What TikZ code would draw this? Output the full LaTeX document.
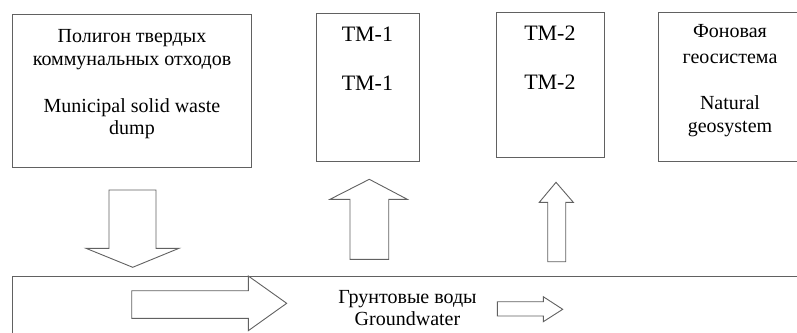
\documentclass[tikz,border=0pt]{standalone}
\usepackage{fontspec}
\setmainfont{Liberation Serif}
\begin{document}
\begin{tikzpicture}[x=1pt,y=-1pt,
  box/.style={draw=black!62,line width=0.9pt,rectangle,inner sep=0pt},
  blockarrow/.style={draw=black!62,line width=0.9pt,line join=miter,fill=white},
  txt/.style={anchor=base,inner sep=0pt,font=\fontsize{20}{24}\selectfont},
  tmtxt/.style={anchor=base,inner sep=0pt,font=\fontsize{22}{26}\selectfont}]
\useasboundingbox (0,0) rectangle (797,332);
\clip (0,0) rectangle (797,332);

% upper boxes
\node[box,minimum width=239.5pt,minimum height=152.5pt] (dump) at (132,90.8) {};
\node[box,minimum width=103pt,minimum height=148.5pt] (tm1) at (367.5,87.5) {};
\node[box,minimum width=108pt,minimum height=145pt] (tm2) at (550,84.8) {};
\node[box,minimum width=144pt,minimum height=149.5pt] (nat) at (730.3,87) {};

% groundwater layer, running off the right and bottom edges
\node[box,minimum width=800pt,minimum height=80pt] (gw) at (412,316) {};

% texts of the upper boxes
\node[txt] (d1) at (132,42.5) {Полигон твердых};
\node[txt] (d2) at (132,65) {коммунальных отходов};
\node[txt] (d3) at (132,112) {Municipal solid waste};
\node[txt] (d4) at (132,134) {dump};

\node[tmtxt] (t1a) at (367.5,41.7) {ТМ-1};
\node[tmtxt] (t1b) at (367.5,90) {ТМ-1};

\node[tmtxt] (t2a) at (550,40) {ТМ-2};
\node[tmtxt] (t2b) at (550,89) {ТМ-2};

\node[txt] (n1) at (730,37) {Фоновая};
\node[txt] (n2) at (730,63) {геосистема};
\node[txt] (n3) at (730,109) {Natural};
\node[txt] (n4) at (730,132) {geosystem};

% texts of the groundwater layer
\node[txt] (g1) at (407.5,303) {Грунтовые воды};
\node[txt] (g2) at (407.5,325) {Groundwater};

% block arrows
% down: dump -> groundwater
\draw[blockarrow] (109,190) -- (156,190) -- (156,248.3) -- (179,248.3)
  -- (132.7,267.3) -- (86,248.3) -- (109,248.3) -- cycle;
% up: groundwater -> TM-1
\draw[blockarrow] (350,259.3) -- (388.7,259.3) -- (388.7,199.3) -- (407.3,199.3)
  -- (369.3,179.3) -- (330,199.3) -- (350,199.3) -- cycle;
% up: groundwater -> TM-2
\draw[blockarrow] (547.7,261.7) -- (565.7,261.7) -- (565.7,202.3) -- (573.3,202.3)
  -- (556,182.3) -- (539.3,202.3) -- (547.7,202.3) -- cycle;
% flow direction of the groundwater
\draw[blockarrow] (131.7,290.7) -- (248.3,290.7) -- (248.3,276) -- (286.7,303.3)
  -- (248.3,330.7) -- (248.3,318.3) -- (131.7,318.3) -- cycle;
\draw[blockarrow] (497.3,301.7) -- (543.3,301.7) -- (543.3,296.7) -- (562.7,309.3)
  -- (543.3,321.7) -- (543.3,316) -- (497.3,316) -- cycle;
\end{tikzpicture}
\end{document}
